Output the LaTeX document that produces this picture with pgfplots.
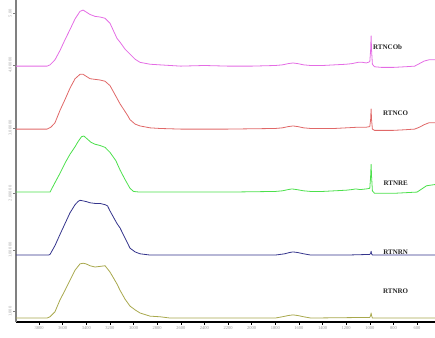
\documentclass[border=0pt]{standalone}
\usepackage{pgfplots}
\pgfplotsset{compat=1.18}
\usepackage{fontspec}
\setmainfont{Liberation Serif}
\definecolor{cpink}{HTML}{E46CE4}
\definecolor{cred}{HTML}{E06868}
\definecolor{cgreen}{HTML}{4CE04C}
\definecolor{cblue}{HTML}{34348C}
\definecolor{colive}{HTML}{A8A84C}
\begin{document}
\begin{tikzpicture}
\path[use as bounding box] (-16pt,-15pt) rectangle (419pt,322pt);
\begin{axis}[
  at={(0,0)}, anchor=south west,
  scale only axis, width=419pt, height=322pt,
  x dir=reverse, xmin=448, xmax=3995, ymin=-0.063, ymax=5.05,
  axis x line=bottom, axis y line=left,
  x axis line style={black, line width=1.2pt, -},
  y axis line style={gray, line width=1.2pt, -},
  xtick={600,800,...,3800},
  ytick={0.1,1.08,1.98,3.02,4.02,4.84},
  yticklabels={1.000,1.000\,00,2.000\,00,3.000\,00,4.000\,00,5.00},
  tick align=outside,
  major tick length=2.5pt,
  x tick style={black, line width=0.5pt},
  y tick style={gray, line width=0.5pt},
  /pgf/number format/assume math mode=true,
  /pgf/number format/set thousands separator={},
  xticklabel style={font=\fontsize{4.5}{5}\selectfont, text=gray!80, inner sep=1.5pt},
  yticklabel style={font=\fontsize{4.5}{5}\selectfont, text=gray!70, rotate=90, anchor=south, inner sep=1.5pt},
  every axis plot/.append style={line width=0.8pt, line join=round},
  clip=false,
]
% RTNCOb (pink)
\addplot[cpink] coordinates {
(3995,4.00) (3850,4.00) (3732,4.00) (3707,4.02) (3665,4.10) (3622,4.25) (3580,4.42) (3538,4.58) (3495,4.75) (3453,4.87) (3427,4.89) (3402,4.86) (3368,4.82) (3326,4.79) (3284,4.78) (3241,4.76) (3199,4.68) (3140,4.44) (3114,4.38) (3072,4.27) (3030,4.19) (2987,4.11) (2945,4.06) (2860,4.03) (2776,4.02) (2600,4.00) (2400,4.01) (2200,4.00) (2000,4.00) (1800,4.01) (1740,4.02) (1690,4.04) (1650,4.05) (1610,4.04) (1560,4.02) (1500,4.01) (1400,4.01) (1300,4.02) (1200,4.03) (1150,4.04) (1100,4.06) (1060,4.06) (1030,4.05) (1000,4.07) (993,4.25) (989,4.48) (985,4.25) (978,4.03) (960,3.99) (900,3.98) (800,3.98) (700,3.99) (620,4.00) (580,4.04) (540,4.08) (500,4.10) (448,4.10)
};
% RTNCO (red)
\addplot[cred] coordinates {
(3995,3.00) (3732,3.00) (3700,3.03) (3665,3.10) (3622,3.30) (3580,3.47) (3538,3.65) (3495,3.80) (3453,3.87) (3427,3.87) (3402,3.84) (3368,3.80) (3326,3.79) (3284,3.78) (3241,3.76) (3199,3.69) (3140,3.49) (3114,3.40) (3072,3.28) (3048,3.21) (3030,3.15) (2987,3.08) (2945,3.05) (2860,3.02) (2776,3.01) (2600,3.00) (2200,3.00) (1800,3.01) (1740,3.02) (1690,3.04) (1650,3.05) (1610,3.04) (1560,3.02) (1500,3.01) (1400,3.01) (1300,3.01) (1200,3.02) (1100,3.03) (1030,3.03) (1000,3.04) (993,3.15) (989,3.32) (985,3.15) (978,3.00) (960,2.98) (800,2.98) (700,2.99) (620,3.00) (580,3.03) (540,3.07) (500,3.10) (448,3.10)
};
% RTNRE (green)
\addplot[cgreen] coordinates {
(3995,2.00) (3720,2.00) (3707,2.00) (3665,2.15) (3622,2.30) (3580,2.46) (3538,2.60) (3495,2.72) (3470,2.80) (3440,2.88) (3420,2.89) (3402,2.86) (3360,2.79) (3326,2.76) (3284,2.74) (3241,2.71) (3199,2.63) (3150,2.50) (3114,2.35) (3072,2.20) (3030,2.06) (3000,2.01) (2950,2.00) (2600,2.00) (2200,2.00) (1800,2.01) (1740,2.02) (1690,2.04) (1660,2.05) (1620,2.04) (1560,2.02) (1500,2.01) (1400,2.01) (1300,2.02) (1200,2.03) (1150,2.04) (1120,2.05) (1080,2.04) (1030,2.05) (1000,2.06) (993,2.25) (989,2.44) (985,2.25) (978,2.02) (960,1.98) (800,1.98) (700,1.99) (600,2.00) (560,2.05) (520,2.10) (448,2.12)
};
% RTNRN (blue)
\addplot[cblue] coordinates {
(3995,1.00) (3720,1.00) (3707,1.01) (3665,1.15) (3622,1.33) (3580,1.50) (3538,1.67) (3495,1.80) (3470,1.85) (3453,1.87) (3427,1.86) (3402,1.85) (3368,1.83) (3326,1.82) (3284,1.82) (3241,1.80) (3220,1.78) (3199,1.70) (3140,1.50) (3114,1.43) (3072,1.27) (3030,1.11) (2987,1.05) (2945,1.02) (2860,1.00) (2200,1.00) (1800,1.00) (1720,1.02) (1680,1.04) (1650,1.05) (1610,1.04) (1560,1.02) (1500,1.00) (1200,1.00) (1000,1.01) (993,1.03) (989,1.06) (985,1.02) (978,1.00) (448,1.00)
};
% RTNRO (olive)
\addplot[colive] coordinates {
(3995,0.00) (3732,0.00) (3707,0.02) (3665,0.10) (3622,0.29) (3580,0.44) (3538,0.60) (3495,0.76) (3453,0.86) (3427,0.87) (3402,0.86) (3368,0.83) (3326,0.81) (3284,0.82) (3241,0.83) (3199,0.73) (3174,0.65) (3140,0.54) (3114,0.44) (3072,0.30) (3030,0.19) (2987,0.13) (2945,0.08) (2860,0.03) (2776,0.02) (2691,0.00) (2200,0.00) (1800,0.00) (1740,0.02) (1690,0.04) (1650,0.05) (1610,0.04) (1560,0.02) (1500,0.00) (1000,0.01) (993,0.04) (989,0.08) (985,0.04) (978,0.00) (448,0.00)
};
\begin{scope}[every node/.style={font=\fontsize{7}{8}\selectfont\bfseries, text=black!85}]
\node at (axis cs:849,4.30) {RTNCOb};
\node at (axis cs:781,3.25) {RTNCO};
\node at (axis cs:781,2.14) {RTNRE};
\node at (axis cs:781,1.05) {RTNRN};
\node at (axis cs:781,0.43) {RTNRO};
\end{scope}
\end{axis}
\end{tikzpicture}
\end{document}
